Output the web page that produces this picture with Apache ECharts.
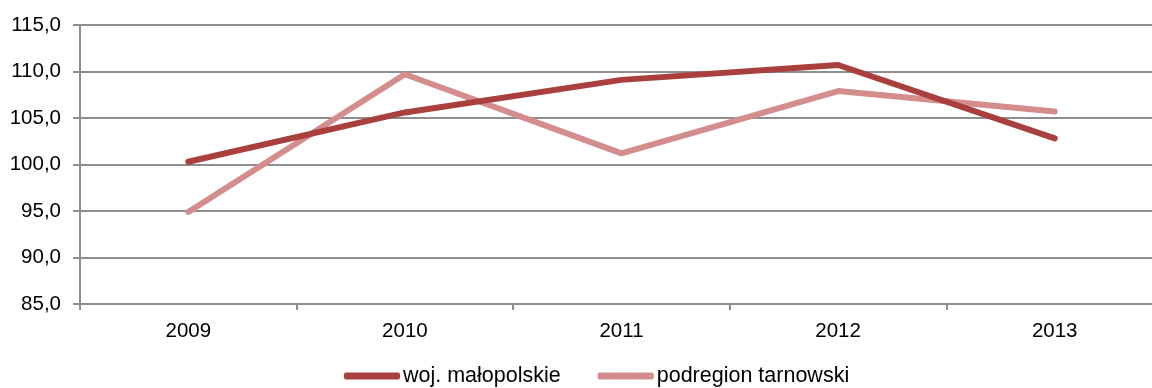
<!DOCTYPE html>
<html>
<head>
<meta charset="utf-8">
<script src="https://cdn.jsdelivr.net/npm/echarts@6/dist/echarts.min.js"></script>
<style>
  html, body { margin: 0; padding: 0; background: #fff; overflow: hidden; }
  #chart { width: 1172px; height: 388px; }
</style>
</head>
<body>
<div id="chart"></div>
<script>
// Years on the category axis
const years = ['2009', '2010', '2011', '2012', '2013'];
// Index values per region
const malopolskie = [100.3, 105.6, 109.1, 110.7, 102.8];
const tarnowski = [94.9, 109.7, 101.2, 107.9, 105.7];
const seriesNames = ['woj. małopolskie', 'podregion tarnowski'];

const gridColor = '#8e8e8e';
const fontFamily = '"Liberation Sans", Arial, sans-serif';

const chart = echarts.init(document.getElementById('chart'));
chart.setOption({
  animation: false,
  backgroundColor: '#ffffff',
  textStyle: { fontFamily: fontFamily },
  // the plot runs a little past the right edge of the visible page
  grid: { left: 80, right: 9, top: 25, bottom: 84, containLabel: false },
  legend: {
    top: 365,
    left: 344,
    padding: 0,
    itemWidth: 56,
    itemHeight: 7,
    itemGap: 37,
    icon: 'roundRect',
    textStyle: { fontSize: 21.5, color: '#000', fontFamily: fontFamily, padding: [0, 0, 0, -2] },
    data: seriesNames
  },
  xAxis: {
    type: 'category',
    data: years,
    boundaryGap: true,
    axisLine: { lineStyle: { color: gridColor, width: 2 } },
    axisTick: { show: true, length: 6, lineStyle: { color: gridColor, width: 2 } },
    axisLabel: { fontSize: 20.5, color: '#000', margin: 17, fontFamily: fontFamily }
  },
  yAxis: {
    type: 'value',
    min: 85,
    max: 115,
    interval: 5,
    axisLine: { show: true, lineStyle: { color: gridColor, width: 2 } },
    axisTick: { show: true, length: 7, lineStyle: { color: gridColor, width: 2 } },
    splitLine: { lineStyle: { color: gridColor, width: 2 } },
    axisLabel: {
      fontSize: 20.5,
      color: '#000',
      margin: 19,
      fontFamily: fontFamily,
      formatter: v => v.toFixed(1).replace('.', ',')
    }
  },
  series: [
    {
      name: seriesNames[0],
      type: 'line',
      data: malopolskie,
      symbol: 'none',
      lineStyle: { color: '#a9403e', width: 6, cap: 'round', join: 'round' },
      itemStyle: { color: '#a9403e' },
      z: 3
    },
    {
      name: seriesNames[1],
      type: 'line',
      data: tarnowski,
      symbol: 'none',
      lineStyle: { color: '#d38d8c', width: 6, cap: 'round', join: 'round' },
      itemStyle: { color: '#d38d8c' },
      z: 2
    }
  ]
});
</script>
</body>
</html>
